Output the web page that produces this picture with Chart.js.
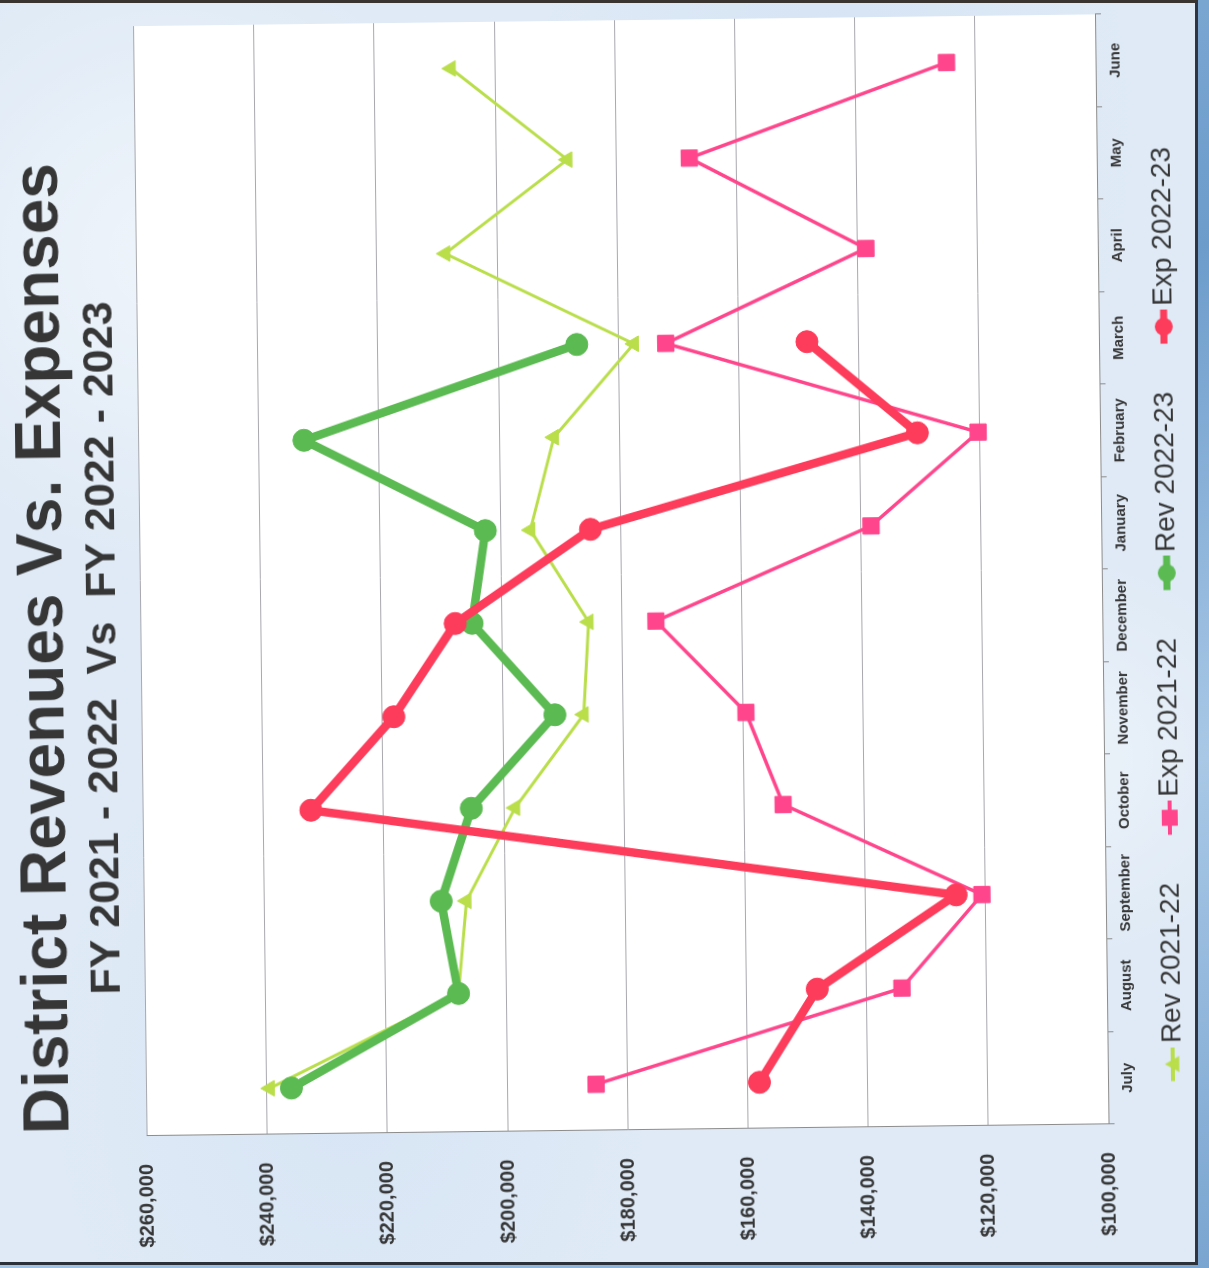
<!DOCTYPE html>
<html>
<head>
<meta charset="utf-8">
<title>District Revenues Vs. Expenses</title>
<script src="https://cdn.jsdelivr.net/npm/chart.js@4.4.1/dist/chart.umd.min.js"></script>
<style>
  html, body { margin: 0; padding: 0; }
  body {
    width: 1209px; height: 1268px; overflow: hidden; position: relative;
    background: linear-gradient(160deg, #8fb6dc 0%, #6d9ccb 40%, #a9c8e6 70%, #7aa5d0 100%);
  }
  /* the printed sheet */
  #paper {
    position: absolute; left: -10px; top: 0; width: 1205px; height: 1259px;
    border-top: 3px solid #3a3430; border-right: 3px solid #2f3440; border-bottom: 3px solid #2c3038;
    background-color: #dfeaf6;
    background-image:
      radial-gradient(ellipse at 15% 20%, rgba(255,255,255,0.5), rgba(255,255,255,0) 22%),
      radial-gradient(ellipse at 70% 10%, rgba(205,222,242,0.6), rgba(205,222,242,0) 25%),
      radial-gradient(ellipse at 85% 60%, rgba(255,255,255,0.45), rgba(255,255,255,0) 20%),
      radial-gradient(ellipse at 30% 85%, rgba(210,225,243,0.6), rgba(210,225,243,0) 25%),
      radial-gradient(ellipse at 55% 45%, rgba(240,246,252,0.5), rgba(240,246,252,0) 30%);
  }
  #wrap {
    position: absolute; left: -31.5px; top: 34.5px; width: 1260px; height: 1197px;
    transform: rotate(-90.7deg);
  }
</style>
</head>
<body>
<div id="paper"></div>
<div id="wrap"><canvas id="chart" width="1260" height="1197"></canvas></div>
<script>
const months = ['July', 'August', 'September', 'October', 'November', 'December',
  'January', 'February', 'March', 'April', 'May', 'June'];

// monthly dollars
const rev2122 = [239500, 207900, 206400, 198100, 186500, 185500, 195000, 190900, 177400, 208600, 188100, 207300];
const exp2122 = [185200, 134100, 120600, 153500, 159500, 174300, 138300, 120300, 172100, 138600, 167800, 124800];
const rev2223 = [235900, 207900, 210600, 205400, 191300, 204900, 202500, 232500, 186900];
const exp2223 = [158000, 148200, 124900, 232100, 218100, 207700, 185000, 130400, 148600];

const FONT = "'Liberation Sans', Arial, sans-serif";
const TEXT = '#363636';

// little line + marker swatch for the legend
function legendIcon(color, style, size, lineWidth) {
  const c = document.createElement('canvas');
  c.width = 86; c.height = 30;
  const g = c.getContext('2d');
  g.strokeStyle = color; g.fillStyle = color; g.lineWidth = lineWidth;
  g.beginPath(); g.moveTo(52, 15); g.lineTo(86, 15); g.stroke();
  const cx = 69, cy = 15;
  g.beginPath();
  if (style === 'circle') {
    g.arc(cx, cy, size, 0, Math.PI * 2);
  } else if (style === 'rect') {
    g.rect(cx - size, cy - size, size * 2, size * 2);
  } else {
    g.moveTo(cx, cy - size); g.lineTo(cx + size, cy + size * 0.8); g.lineTo(cx - size, cy + size * 0.8); g.closePath();
  }
  g.fill();
  return c;
}

const series = [
  { label: 'Rev 2021-22', data: rev2122, color: '#b9de4a', style: 'triangle', radius: 9, width: 3, order: 4, icon: [8, 4] },
  { label: 'Exp 2021-22', data: exp2122, color: '#ff468c', style: 'rect', radius: 11.5, width: 3.5, order: 3, icon: [8, 4] },
  { label: 'Rev 2022-23', data: rev2223, color: '#5bba51', style: 'circle', radius: 11, width: 8.5, order: 2, icon: [9, 7] },
  { label: 'Exp 2022-23', data: exp2223, color: '#fd3c5b', style: 'circle', radius: 11, width: 8.5, order: 1, icon: [9, 7] }
];

const plotBackground = {
  id: 'plotBackground',
  beforeDraw(chart) {
    const { ctx, chartArea: a } = chart;
    ctx.save();
    ctx.fillStyle = '#ffffff';
    ctx.fillRect(a.left, a.top, a.right - a.left, a.bottom - a.top);
    ctx.restore();
  }
};

new Chart(document.getElementById('chart'), {
  type: 'line',
  data: {
    labels: months,
    datasets: series.map(s => ({
      label: s.label,
      data: s.data,
      borderColor: s.color,
      backgroundColor: s.color,
      borderWidth: s.width,
      pointStyle: s.style,
      pointRadius: s.radius,
      pointBorderWidth: 1,
      pointBackgroundColor: s.color,
      pointBorderColor: s.color,
      tension: 0,
      order: s.order
    }))
  },
  options: {
    responsive: false,
    animation: false,
    layout: { padding: { left: 0, right: 17, top: 0, bottom: 6 } },
    scales: {
      x: {
        offset: true,
        grid: { display: true, offset: true, drawOnChartArea: false, drawTicks: true, tickLength: 6, color: '#8c8c8c' },
        border: { display: true, color: '#8c8c8c', width: 1 },
        ticks: { color: TEXT, font: { family: FONT, size: 15, weight: 'bold' }, padding: 5, maxRotation: 0, autoSkip: false },
        afterFit: s => { s.height = 45; }
      },
      y: {
        min: 100000,
        max: 260000,
        grid: { color: '#a8a8ae', lineWidth: 1, drawTicks: false },
        border: { display: true, color: '#8c8c8c', width: 1 },
        ticks: {
          stepSize: 20000,
          color: TEXT,
          font: { family: FONT, size: 20, weight: 'bold' },
          padding: 28,
          callback: v => '$' + v.toLocaleString('en-US')
        },
        afterFit: s => { s.width = 133; }
      }
    },
    plugins: {
      title: {
        display: true,
        text: 'District Revenues Vs. Expenses',
        color: TEXT,
        font: { family: FONT, size: 64, weight: 'bold', lineHeight: 0.9 },
        padding: { top: 16, bottom: 0 }
      },
      subtitle: {
        display: true,
        text: 'FY 2021 - 2022  Vs  FY 2022 - 2023',
        color: TEXT,
        font: { family: FONT, size: 43, weight: 'bold', lineHeight: 1 },
        padding: { top: 8, bottom: 16 }
      },
      legend: {
        position: 'bottom',
        labels: {
          usePointStyle: true,
          pointStyleWidth: 66,
          padding: 6,
          color: TEXT,
          font: { family: FONT, size: 28 },
          generateLabels: chart => series.map((s, i) => ({
            text: s.label,
            pointStyle: legendIcon(s.color, s.style, s.icon[0], s.icon[1]),
            fillStyle: s.color,
            strokeStyle: s.color,
            lineWidth: 0,
            fontColor: TEXT,
            hidden: false,
            datasetIndex: i
          }))
        }
      },
      tooltip: { enabled: false }
    }
  },
  plugins: [plotBackground]
});
</script>
</body>
</html>
